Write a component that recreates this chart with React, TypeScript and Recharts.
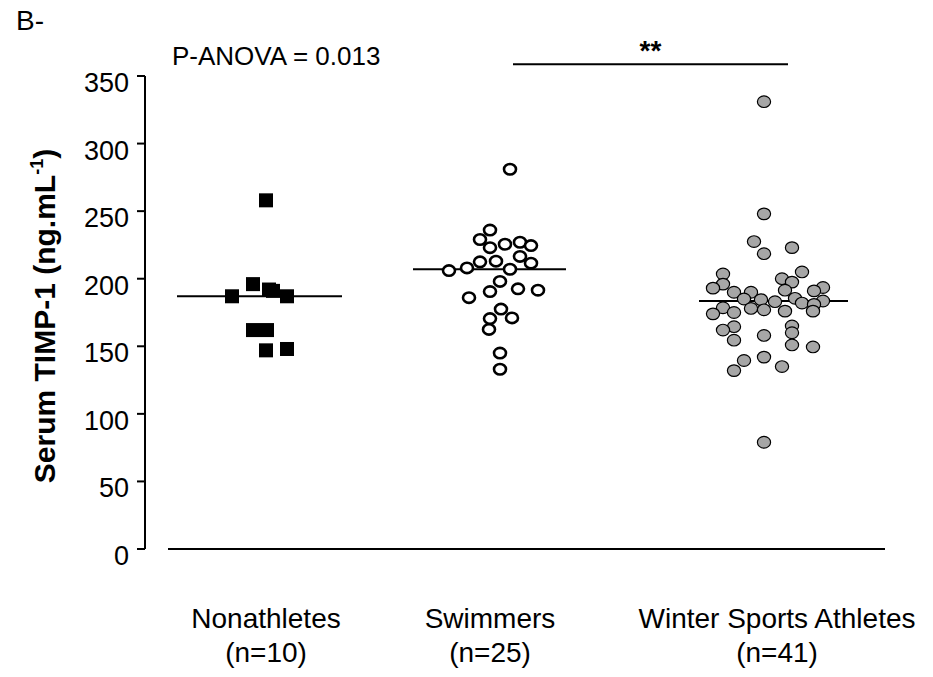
import React from "react";
import {
  ScatterChart,
  Scatter,
  XAxis,
  YAxis,
  ReferenceLine,
} from "recharts";

const FONT = '"Liberation Sans", Arial, Helvetica, sans-serif';

// group layout on the x scale (0..7.4)
const groupNames = ["Nonathletes", "Swimmers", "Winter Sports Athletes"];
const groupNs = ["(n=10)", "(n=25)", "(n=41)"];
const groupCenters = [1.21, 3.45, 6.32];
const medians = [187, 207, 183.5];
const medianSpans = [
  [0.32, 1.97],
  [2.68, 4.21],
  [5.54, 7.03],
];
const yTicks = [0, 50, 100, 150, 200, 250, 300, 350];

// Nonathletes
const nonX = [1.21, 1.08, 1.24, 1.28, 0.87, 1.42, 1.08, 1.22, 1.21, 1.42];
const nonY = [258, 196, 192, 191, 187, 187, 162, 162, 147, 148];

// Swimmers
const swimX = [
  3.65, 3.45, 3.35, 3.45, 3.6, 3.75, 3.86, 3.75, 3.86, 3.35, 3.51, 3.04, 3.22,
  3.65, 3.55, 3.45, 3.73, 3.93, 3.24, 3.56, 3.45, 3.67, 3.44, 3.55, 3.55,
];
const swimY = [
  281, 236, 229, 223, 225.5, 227, 224.5, 216.5, 211.5, 212.5, 213, 206, 208,
  207, 198, 190.5, 192.5, 191.5, 186, 177.5, 170.5, 171, 162.5, 145, 133,
];

// Winter sports athletes
const winX = [
  6.19, 6.19, 6.09, 6.47, 6.19, 6.57, 5.78, 6.37, 6.47, 5.78, 5.68, 6.78, 6.69,
  6.4, 5.89, 6.06, 6.5, 5.99, 6.16, 6.3, 6.57, 6.78, 6.69, 5.78, 6.06, 6.19,
  5.68, 5.89, 6.4, 6.68, 5.89, 5.78, 6.47, 6.47, 6.19, 5.89, 6.47, 6.68, 6.19,
  5.99, 6.37, 5.89, 6.19,
];
const winY = [
  331, 248, 227.5, 223, 218.5, 205, 203.5, 200, 197.5, 196, 193, 193.5, 191,
  191.5, 190, 190, 185.5, 185, 184.5, 183, 182, 183.5, 181, 178.5, 178, 177,
  174, 175, 176, 176, 164.5, 162, 165, 160, 158, 154.5, 151, 149.5, 142, 139.5,
  135, 132, 79,
];

const toPoints = (xs: number[], ys: number[]) =>
  xs.map((x, i) => ({ x, y: ys[i] }));

const SquareDot = (p: any) => (
  <rect x={p.cx - 7} y={p.cy - 7} width={14} height={14} fill="#000" />
);
const OpenDot = (p: any) => (
  <ellipse cx={p.cx} cy={p.cy} rx={6} ry={5.2} fill="#fff" stroke="#000" strokeWidth={2.6} />
);
const GreyDot = (p: any) => (
  <ellipse cx={p.cx} cy={p.cy} rx={6.6} ry={5.8} fill="#a6a6a6" stroke="#000" strokeWidth={1.2} />
);

const CategoryTick = (p: any) => {
  const i = groupCenters.indexOf(p.payload.value);
  return (
    <g>
      <text x={p.x} y={p.y + 79} textAnchor="middle" fontSize={28} fontFamily={FONT} fill="#000">
        {groupNames[i]}
      </text>
      <text x={p.x} y={p.y + 113} textAnchor="middle" fontSize={28} fontFamily={FONT} fill="#000">
        {groupNs[i]}
      </text>
    </g>
  );
};

const ValueTick = (p: any) => (
  <text x={p.x} y={p.y + 16} textAnchor="end" fontSize={27} fontFamily={FONT} fill="#000">
    {p.payload.value}
  </text>
);

export default function App() {
  return (
    <div style={{ position: "absolute", left: 0, top: 0, background: "#fff" }}>
      <ScatterChart
        width={933}
        height={677}
        margin={{ top: 76, right: 48, bottom: 28, left: 85 }}
      >
        <XAxis
          type="number"
          dataKey="x"
          domain={[0, 7.4]}
          ticks={groupCenters}
          axisLine={false}
          tickLine={false}
          tickSize={0}
          tickMargin={0}
          height={100}
          tick={<CategoryTick />}
          interval={0}
        />
        <YAxis
          type="number"
          dataKey="y"
          domain={[0, 350]}
          ticks={yTicks}
          width={60}
          tickSize={8}
          tickMargin={8}
          axisLine={{ stroke: "#000", strokeWidth: 2 }}
          tickLine={{ stroke: "#000", strokeWidth: 2 }}
          tick={<ValueTick />}
          interval={0}
        />
        <ReferenceLine
          segment={[
            { x: 0.23, y: 0 },
            { x: 7.4, y: 0 },
          ]}
          stroke="#000"
          strokeWidth={2}
        />
        {medians.map((m, i) => (
          <ReferenceLine
            key={i}
            segment={[
              { x: medianSpans[i][0], y: m },
              { x: medianSpans[i][1], y: m },
            ]}
            stroke="#000"
            strokeWidth={2}
          />
        ))}
        <ReferenceLine
          segment={[
            { x: 3.68, y: 358.7 },
            { x: 6.43, y: 358.7 },
          ]}
          stroke="#000"
          strokeWidth={2}
          ifOverflow="visible"
          label={{ value: "**", position: "top", offset: 4, fontSize: 28, fontWeight: "bold", fill: "#000", fontFamily: FONT }}
        />
        <Scatter data={toPoints(nonX, nonY)} shape={SquareDot} isAnimationActive={false} />
        <Scatter data={toPoints(swimX, swimY)} shape={OpenDot} isAnimationActive={false} />
        <Scatter data={toPoints(winX, winY)} shape={GreyDot} isAnimationActive={false} />
        <text x={16} y={30} fontSize={28} fontFamily={FONT} fill="#000">
          B-
        </text>
        <text x={172} y={65} fontSize={26} fontFamily={FONT} fill="#000">
          P-ANOVA = 0.013
        </text>
        <text
          transform="translate(55, 316) rotate(-90)"
          textAnchor="middle"
          fontSize={30}
          fontWeight="bold"
          fontFamily={FONT}
          fill="#000"
        >
          Serum TIMP-1 (ng.mL
          <tspan fontSize={18} dy={-12}>-1</tspan>
          <tspan dy={12}>)</tspan>
        </text>
      </ScatterChart>
    </div>
  );
}
